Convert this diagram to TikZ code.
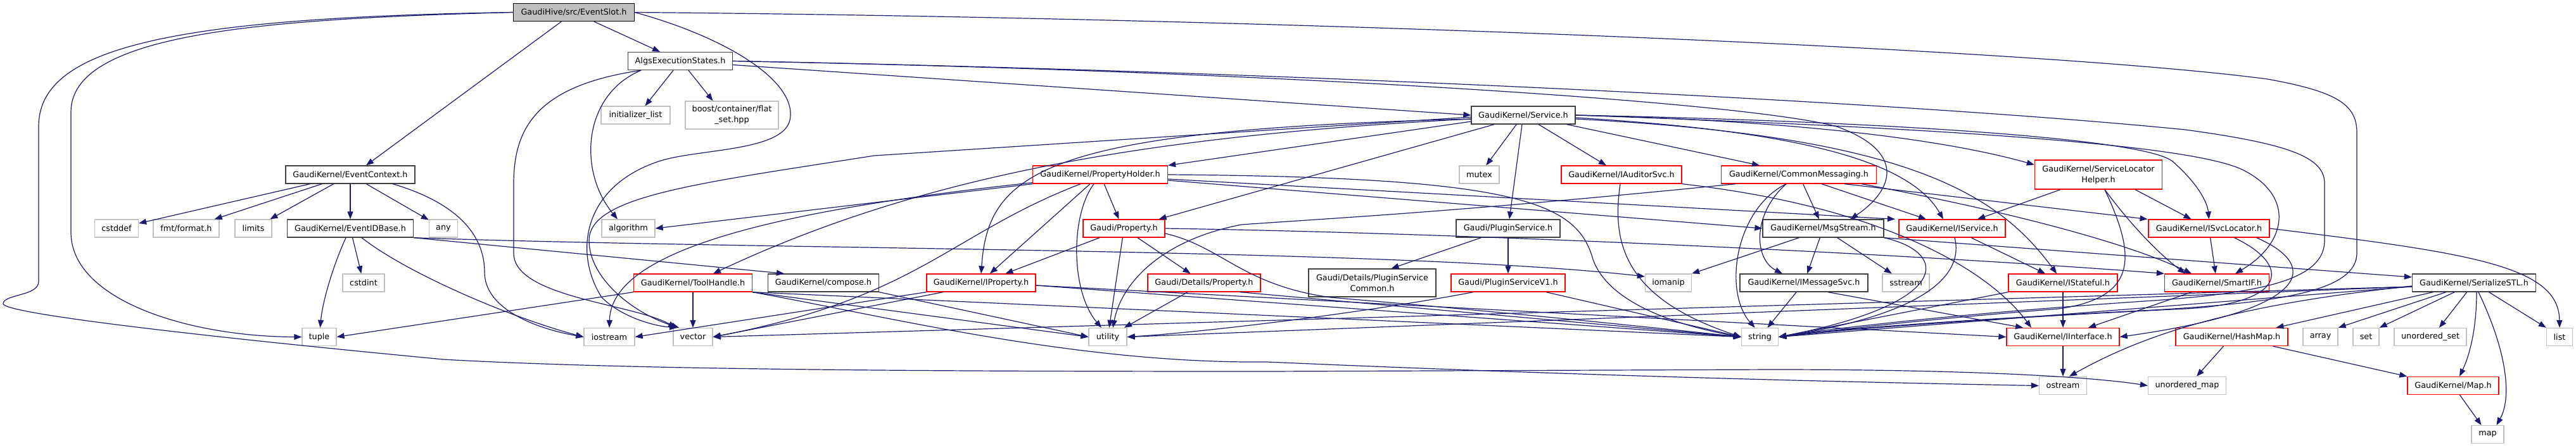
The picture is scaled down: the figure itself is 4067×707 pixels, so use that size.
\documentclass[tikz,border=0pt]{standalone}
\usepackage{fontspec}
\setmainfont{DejaVu Sans}
\usetikzlibrary{arrows.meta}
\definecolor{edgeblue}{HTML}{191970}
\definecolor{sysgray}{HTML}{BFBFBF}
\definecolor{nodeblack}{HTML}{404040}
\definecolor{truncred}{HTML}{FF0000}
\begin{document}
\begin{tikzpicture}[x=1pt,y=-1pt,
    box/.style={draw, rectangle, minimum height=28pt, inner sep=0pt, line width=1.3pt,
        align=center, font=\fontsize{12.8}{17}\selectfont},
    sys/.style={box, draw=sysgray},
    plain/.style={box, draw=nodeblack},
    trunc/.style={box, draw=truncred},
    root/.style={box, draw=black, fill=sysgray},
    edge/.style={draw=edgeblue, line width=1.2pt, -{Triangle[length=12pt,width=9pt]}}]
    \path[use as bounding box, fill=white] (0,0) rectangle (4067,707);

    \node[root, minimum width=191pt] (slot) at (906,19.5) {GaudiHive/src/EventSlot.h};
    \node[plain, minimum width=165pt] (algs) at (1074,96.5) {AlgsExecutionStates.h};
    \node[sys, minimum width=109pt] (initlist) at (1003.5,182) {initializer\_list};
    \node[sys, minimum width=147pt, minimum height=44pt] (flatset) at (1155.5,182) {boost/container/flat\\\_set.hpp};
    \node[plain, minimum width=164pt] (service) at (2405,182) {GaudiKernel/Service.h};
    \node[plain, minimum width=204pt] (ctx) at (553,276) {GaudiKernel/EventContext.h};
    \node[trunc, minimum width=213pt] (holder) at (1737,276) {GaudiKernel/PropertyHolder.h};
    \node[sys, minimum width=63pt] (mutex) at (2335.5,276) {mutex};
    \node[trunc, minimum width=190pt] (auditor) at (2560,276) {GaudiKernel/IAuditorSvc.h};
    \node[trunc, minimum width=245pt] (messaging) at (2840,276) {GaudiKernel/CommonMessaging.h};
    \node[trunc, minimum width=201pt, minimum height=46pt] (locatorhelper) at (3313,276) {GaudiKernel/ServiceLocator\\Helper.h};

    \node[sys, minimum width=69pt] (cstddef) at (184,361) {cstddef};
    \node[sys, minimum width=104pt] (fmt) at (294,361) {fmt/format.h};
    \node[sys, minimum width=58pt] (limits) at (400,361) {limits};
    \node[plain, minimum width=199pt] (idbase) at (553,361) {GaudiKernel/EventIDBase.h};
    \node[sys, minimum width=45pt] (any) at (700,361) {any};
    \node[sys, minimum width=84pt] (algorithm) at (992,361) {algorithm};
    \node[trunc, minimum width=129pt] (property) at (1774.5,361) {Gaudi/Property.h};
    \node[plain, minimum width=164pt] (pluginsvc) at (2381,361) {Gaudi/PluginService.h};
    \node[plain, minimum width=191pt] (msgstream) at (2878.5,361) {GaudiKernel/MsgStream.h};
    \node[trunc, minimum width=168pt] (iservice) at (3082,361) {GaudiKernel/IService.h};
    \node[trunc, minimum width=191pt] (isvclocator) at (3487.5,361) {GaudiKernel/ISvcLocator.h};

    \node[sys, minimum width=66pt] (cstdint) at (574,447) {cstdint};
    \node[trunc, minimum width=187pt] (toolhandle) at (1094,447) {GaudiKernel/ToolHandle.h};
    \node[plain, minimum width=175pt] (compose) at (1300,447) {GaudiKernel/compose.h};
    \node[trunc, minimum width=172pt] (iproperty) at (1549,447) {GaudiKernel/IProperty.h};
    \node[trunc, minimum width=178pt] (detprop) at (1901,447) {Gaudi/Details/Property.h};
    \node[plain, minimum width=201pt, minimum height=44pt] (plugincommon) at (2166.5,447) {Gaudi/Details/PluginService\\Common.h};
    \node[trunc, minimum width=180pt] (pluginv1) at (2381,447) {Gaudi/PluginServiceV1.h};
    \node[sys, minimum width=73pt] (iomanip) at (2634,447) {iomanip};
    \node[plain, minimum width=202pt] (imsgsvc) at (2848,447) {GaudiKernel/IMessageSvc.h};
    \node[sys, minimum width=74pt] (sstream) at (3009,447) {sstream};
    \node[trunc, minimum width=172pt] (istateful) at (3257,447) {GaudiKernel/IStateful.h};
    \node[trunc, minimum width=165pt] (smartif) at (3500,447) {GaudiKernel/SmartIF.h};
    \node[plain, minimum width=195pt] (serialize) at (3906,447) {GaudiKernel/SerializeSTL.h};

    \node[sys, minimum width=54pt] (tuple) at (504,532.5) {tuple};
    \node[sys, minimum width=80pt] (iostream) at (962,532.5) {iostream};
    \node[sys, minimum width=62pt] (vector) at (1094,532.5) {vector};
    \node[sys, minimum width=60pt] (utility) at (1749,532.5) {utility};
    \node[sys, minimum width=58pt] (string) at (2778.5,532.5) {string};
    \node[trunc, minimum width=178pt] (iinterface) at (3257,532.5) {GaudiKernel/IInterface.h};
    \node[trunc, minimum width=177pt] (hashmap) at (3523.5,532.5) {GaudiKernel/HashMap.h};
    \node[sys, minimum width=55pt] (array) at (3663.5,532.5) {array};
    \node[sys, minimum width=41pt] (set) at (3735.5,532.5) {set};
    \node[sys, minimum width=114pt] (uset) at (3837,532.5) {unordered\_set};
    \node[sys, minimum width=41pt] (list) at (4041,532.5) {list};

    \node[sys, minimum width=75pt] (ostream) at (3257,609.5) {ostream};
    \node[sys, minimum width=123pt] (umap) at (3453,609.5) {unordered\_map};
    \node[trunc, minimum width=144pt] (mapg) at (3873,609.5) {GaudiKernel/Map.h};
    \node[sys, minimum width=51pt] (map) at (3927.5,686.5) {map};

    % EventSlot.h
    \draw[edge] (slot) -- (algs);
    \draw[edge] (slot) -- ([xshift=25pt]ctx.north);
    \draw[edge] (slot.west) .. controls (400,30) and (112,55) .. (112,177) -- (112,367)
        .. controls (112,475) and (300,532) .. (tuple.west);
    \draw[edge] (slot.west) .. controls (250,28) and (61,80) .. (61,200) -- (61,445)
        .. controls (61,468) and (5,465) .. (5,480) .. controls (5,495) and (300,530) .. (700,568)
        .. controls (1000,585) and (1500,587) .. (2000,587) -- (2800,584)
        .. controls (3100,584) and (3300,595) .. (umap.west);
    \draw[edge] (slot.east) .. controls (2000,28) and (3200,75) .. (3580,125)
        .. controls (3690,145) and (3721,165) .. (3721,210) -- (3721,400)
        .. controls (3721,460) and (3600,478) .. (3400,490) .. controls (3100,505) and (2900,520) .. (string.east);
    \draw[edge] (slot.east) .. controls (1150,60) and (1260,130) .. (1247,190)
        .. controls (1235,240) and (1100,235) .. (1040,255) .. controls (920,295) and (905,400) .. (950,470)
        .. controls (980,500) and (1030,515) .. ([xshift=-25pt]vector.north);

    % AlgsExecutionStates.h
    \draw[edge] ([xshift=-11pt]algs.south) -- ([xshift=15pt]initlist.north);
    \draw[edge] ([xshift=13pt]algs.south) -- ([xshift=-30pt]flatset.north);
    \draw[edge] ([xshift=-62pt]algs.south) .. controls (920,150) and (912,270) .. ([xshift=-17pt]algorithm.north);
    \draw[edge] ([xshift=-62pt]algs.south) .. controls (850,135) and (811,200) .. (811,290) -- (811,400)
        .. controls (811,470) and (1000,480) .. ([xshift=-27pt]vector.north);
    \draw[edge] ([yshift=-6pt]algs.east) -- (service.west);
    \draw[edge] (algs.east) .. controls (2000,112) and (2750,160) .. (2900,200)
        .. controls (3010,240) and (2990,300) .. ([xshift=43pt]msgstream.north);
    \draw[edge] (algs.east) .. controls (2000,112) and (3000,160) .. (3450,205)
        .. controls (3620,228) and (3670,250) .. (3670,290) -- (3670,380)
        .. controls (3670,440) and (3580,462) .. (3400,475) .. controls (3100,495) and (2900,518) .. (string.east);

    % EventContext.h
    \draw[edge] (ctx) -- (cstddef);
    \draw[edge] (ctx) -- (fmt);
    \draw[edge] (ctx) -- (limits);
    \draw[edge] (ctx) -- (idbase);
    \draw[edge] (ctx) -- (any);
    \draw[edge] ([xshift=67pt]ctx.south) .. controls (720,320) and (765,370) .. (765,430)
        .. controls (765,490) and (850,520) .. (iostream.west);

    % EventIDBase.h
    \draw[edge] (idbase) .. controls (530,410) and (510,470) .. (tuple);
    \draw[edge] (idbase) -- (cstdint);
    \draw[edge] ([xshift=18pt]idbase.south) .. controls (640,430) and (800,500) .. (iostream.west);
    \draw[edge] (idbase.south east) -- ([xshift=-62pt]compose.north);
    \draw[edge] (idbase.south east) .. controls (1200,395) and (2200,392) .. ([yshift=10pt]iomanip.west);

    % Service.h
    \draw[edge] (service) -- (mutex);
    \draw[edge] (service) -- (pluginsvc);
    \draw[edge] (service) -- (auditor);
    \draw[edge] (service) -- ([xshift=-62pt]messaging.north);
    \draw[edge] (service.east) .. controls (2800,190) and (3050,215) .. ([yshift=-8pt]locatorhelper.north west);
    \draw[edge] (service.east) .. controls (2900,190) and (3380,215) .. (3430,255)
        .. controls (3470,290) and (3485,320) .. (isvclocator.north);
    \draw[edge] (service.east) .. controls (3000,200) and (3450,225) .. (3540,268)
        .. controls (3625,310) and (3610,385) .. ([xshift=29pt]smartif.north);
    \draw[edge] ([yshift=-4pt]service.east) .. controls (2800,205) and (3010,245) .. ([xshift=-14pt]iservice.north);
    \draw[edge] ([yshift=-6pt]service.east) .. controls (3000,215) and (3150,300) .. ([xshift=-10pt]istateful.north);
    \draw[edge] ([yshift=-10pt]service.west) -- (holder.north east);
    \draw[edge] ([xshift=-46pt]service.south) -- ([xshift=55pt]property.north);
    \draw[edge] ([yshift=-6pt]service.west) .. controls (1650,205) and (1560,270) .. (iproperty.north);
    \draw[edge] ([yshift=-6pt]service.west) .. controls (1800,215) and (1450,280) .. ([xshift=32pt]toolhandle.north);
    \draw[edge] ([yshift=-3pt]service.west) -- (1380,246) .. controls (1100,290) and (930,310) .. (930,380)
        .. controls (930,440) and (1000,495) .. ([xshift=-22pt]vector.north);

    % PropertyHolder.h
    \draw[edge] (holder.south west) -- (algorithm.east);
    \draw[edge] ([yshift=2pt]holder.south west) .. controls (1200,335) and (965,400) .. (iostream.north);
    \draw[edge] (holder) -- ([xshift=-8pt]property.north);
    \draw[edge] ([xshift=-16pt]holder.south) -- ([xshift=14pt]iproperty.north);
    \draw[edge] ([xshift=-10pt]holder.south) .. controls (1690,340) and (1690,460) .. ([xshift=-10pt]utility.north);
    \draw[edge] ([xshift=-31pt]holder.south) .. controls (1500,370) and (1450,470) .. (vector.east);
    \draw[edge] (holder.east) .. controls (2400,280) and (2490,320) .. (2515,410)
        .. controls (2540,480) and (2650,515) .. (string.west);
    \draw[edge] ([yshift=-7pt]holder.east) -- ([xshift=-90pt]iservice.north);
    \draw[edge] ([yshift=-9pt]holder.east) -- (msgstream.west);

    % Gaudi/Property.h
    \draw[edge] (property) -- (iproperty);
    \draw[edge] (property) -- (utility);
    \draw[edge] (property) -- (detprop);
    \draw[edge] (property.east) .. controls (2300,368) and (3000,400) .. (smartif.north west);
    \draw[edge] ([yshift=-8pt]property.east) .. controls (1930,390) and (1960,450) .. (2100,470)
        .. controls (2400,495) and (2650,522) .. (string.west);
    \draw[edge] (detprop) -- ([xshift=26pt]utility.north);
    \draw[edge] ([xshift=57pt]detprop.south) -- (string.west);

    % IProperty.h, ToolHandle.h, compose.h
    \draw[edge] (iproperty.south west) -- (iostream.east);
    \draw[edge] ([xshift=-60pt]iproperty.south) -- (vector.east);
    \draw[edge] ([yshift=-4pt]iproperty.east) -- (string.west);
    \draw[edge] ([yshift=-4pt]iproperty.east) -- (iinterface.west);
    \draw[edge] (toolhandle) -- (vector);
    \draw[edge] (toolhandle.south west) -- (tuple.east);
    \draw[edge] (toolhandle.south east) .. controls (1400,500) and (1700,575) .. (2000,572)
        .. controls (2300,585) and (2700,600) .. (ostream.west);
    \draw[edge] (toolhandle.south east) -- (string.west);
    \draw[edge] (toolhandle.south east) -- (utility.west);
    \draw[edge] (compose.south east) -- (utility.west);

    % PluginService.h
    \draw[edge] (pluginsvc) -- ([xshift=30pt]plugincommon.north);
    \draw[edge] (pluginsvc) -- (pluginv1);
    \draw[edge] ([xshift=60pt]pluginv1.south) -- (string.west);
    \draw[edge] ([xshift=-55pt]pluginv1.south) .. controls (2150,495) and (1900,525) .. (utility.east);

    % CommonMessaging.h
    \draw[edge] ([xshift=-100pt]messaging.south) .. controls (2300,335) and (2100,345) .. (1960,355)
        .. controls (1830,380) and (1770,450) .. ([xshift=8pt]utility.north);
    \draw[edge] ([xshift=-20pt]messaging.south) .. controls (2765,340) and (2770,410) .. ([xshift=-34pt]imsgsvc.north);
    \draw[edge] ([xshift=-20pt]messaging.south) .. controls (2740,330) and (2720,460) .. ([xshift=-8pt]string.north);
    \draw[edge] (messaging) -- (msgstream);
    \draw[edge] ([xshift=36pt]messaging.south) -- ([xshift=-41pt]iservice.north);
    \draw[edge] ([xshift=72pt]messaging.south) -- ([xshift=-97pt]isvclocator.north);
    \draw[edge] ([xshift=99pt]messaging.south) .. controls (3150,330) and (3350,380) .. ([xshift=-40pt]smartif.north);

    % MsgStream.h, IMessageSvc.h
    \draw[edge] (msgstream) -- (imsgsvc);
    \draw[edge] (msgstream) -- (sstream);
    \draw[edge] ([xshift=-38pt]msgstream.south) -- (iomanip.north east);
    \draw[edge] (msgstream.south east) .. controls (3080,400) and (3080,480) .. (string.east);
    \draw[edge] (msgstream.south east) -- ([yshift=9pt]serialize.west);
    \draw[edge] (imsgsvc) -- (string);
    \draw[edge] ([xshift=38pt]imsgsvc.south) -- ([xshift=-63pt]iinterface.north);

    % IService.h, IStateful.h, IInterface.h, IAuditorSvc.h
    \draw[edge] (iservice) -- ([xshift=-28pt]istateful.north);
    \draw[edge] ([xshift=4pt]iservice.south) .. controls (3100,430) and (3050,495) .. (string.east);
    \draw[edge] (istateful) -- (iinterface);
    \draw[edge] (istateful.south west) -- (string.east);
    \draw[edge] (iinterface) -- (ostream);
    \draw[edge] ([xshift=-2pt]auditor.south) .. controls (2545,380) and (2560,470) .. (string.west);
    \draw[edge] (auditor.south east) .. controls (3000,330) and (3150,440) .. ([xshift=-50pt]iinterface.north);

    % ServiceLocatorHelper.h, ISvcLocator.h, SmartIF.h
    \draw[edge] ([xshift=-60pt]locatorhelper.south) -- ([xshift=40pt]iservice.north);
    \draw[edge] ([xshift=58pt]locatorhelper.south) -- ([xshift=-28pt]isvclocator.north);
    \draw[edge] ([xshift=10pt]locatorhelper.south) .. controls (3370,400) and (3380,470) .. (3250,488)
        .. controls (3000,508) and (2900,522) .. (string.east);
    \draw[edge] ([xshift=10pt]locatorhelper.south) .. controls (3375,370) and (3420,410) .. ([xshift=-50pt]smartif.north);
    \draw[edge] (isvclocator) -- (smartif);
    \draw[edge] (isvclocator.east) .. controls (3900,400) and (4040,420) .. (list.north);
    \draw[edge] ([xshift=40pt]isvclocator.south) .. controls (3620,420) and (3610,480) .. (3450,488)
        .. controls (3100,505) and (2900,522) .. (string.east);
    \draw[edge] ([xshift=75pt]isvclocator.south) .. controls (3665,420) and (3650,490) .. (iinterface.east);
    \draw[edge] ([xshift=-40pt]smartif.south) -- ([xshift=40pt]iinterface.north);

    % SerializeSTL.h, HashMap.h, Map.h
    \draw[edge] (serialize) -- ([xshift=70pt]hashmap.north);
    \draw[edge] (serialize) -- (array.north east);
    \draw[edge] (serialize) -- (set.north east);
    \draw[edge] (serialize) -- ([xshift=14pt]uset.north);
    \draw[edge] (serialize) -- (list.north west);
    \draw[edge] ([xshift=4pt]serialize.south) .. controls (3910,530) and (3895,570) .. ([xshift=10pt]mapg.north);
    \draw[edge] ([xshift=7pt]serialize.south) .. controls (3960,560) and (3965,630) .. ([xshift=14pt]map.north);
    \draw[edge] ([yshift=-5pt]serialize.west) .. controls (3550,480) and (3400,520) .. ([xshift=10pt]ostream.north);
    \draw[edge] ([yshift=-6pt]serialize.west) -- (string.east);
    \draw[edge] ([yshift=-6pt]serialize.west) -- (utility.east);
    \draw[edge] ([yshift=-6pt]serialize.west) -- (vector.east);
    \draw[edge] (hashmap) -- ([xshift=15pt]umap.north);
    \draw[edge] (hashmap) -- (mapg.north west);
    \draw[edge] (mapg) -- ([xshift=-10pt]map.north);
\end{tikzpicture}
\end{document}
